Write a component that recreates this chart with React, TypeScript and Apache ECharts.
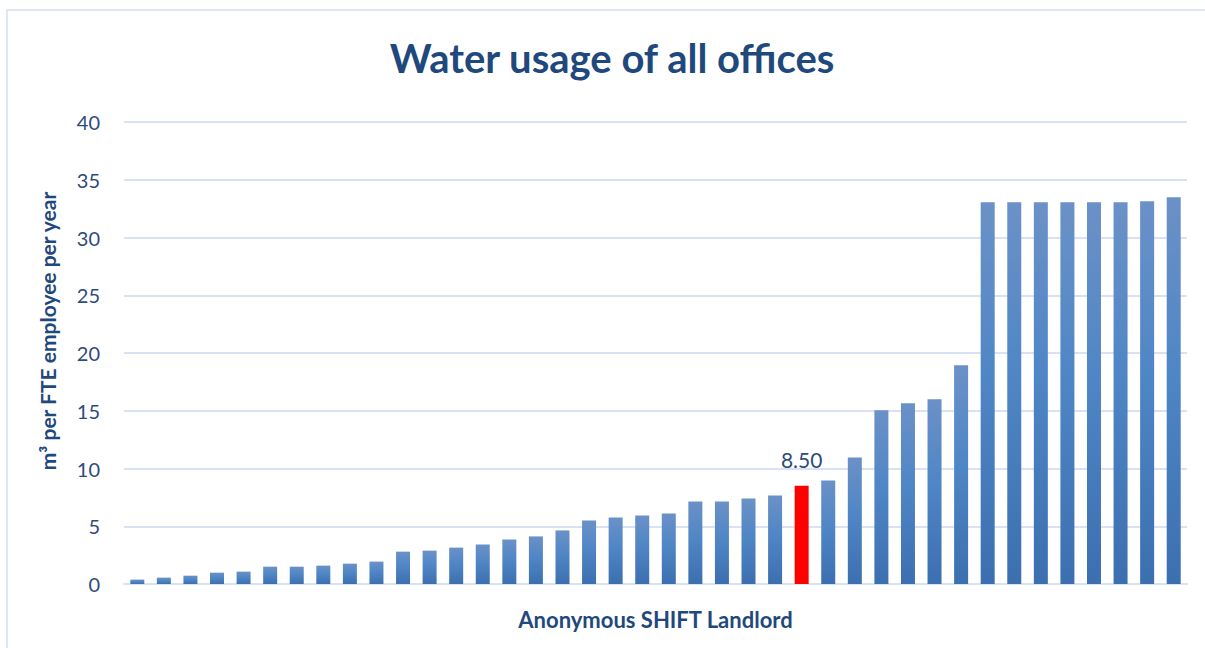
import React, { useEffect, useRef } from "react";
import * as echarts from "echarts";

const categories: string[] = Array.from({ length: 40 }, (_, i) => `Office ${i + 1}`);
const values: number[] = [
  0.38, 0.55, 0.72, 0.98, 1.07, 1.5, 1.5, 1.59, 1.76, 1.94,
  2.8, 2.89, 3.15, 3.42, 3.86, 4.12, 4.64, 5.5, 5.76, 5.94,
  6.11, 7.15, 7.15, 7.41, 7.67, 8.5, 8.96, 10.95, 15.04, 15.65,
  15.99, 18.94, 33.05, 33.05, 33.05, 33.05, 33.05, 33.05, 33.14, 33.49,
];
const highlightIndex = 25;
const yTicks = [0, 5, 10, 15, 20, 25, 30, 35, 40];

const FONT = "Lato, 'Open Sans', sans-serif";
const DARK = "#1f497d";
const LABEL = "#2f4b7c";

export default function App() {
  const ref = useRef<HTMLDivElement>(null);
  useEffect(() => {
    if (!ref.current) return;
    const chart = echarts.init(ref.current, null, { renderer: "svg" });
    const gradient = new echarts.graphic.LinearGradient(0, 0, 0, 1, [
      { offset: 0, color: "#6b91c7" },
      { offset: 0.45, color: "#4f86c6" },
      { offset: 1, color: "#3c6fb0" },
    ]);
    chart.setOption({
      animation: false,
      backgroundColor: "#ffffff",
      title: {
        text: "Water usage of all offices",
        left: 607,
        textAlign: "center",
        top: 33,
        textStyle: { fontFamily: FONT, fontSize: 40, fontWeight: "bold", color: DARK },
      },
      graphic: [
        {
          type: "rect",
          shape: { x: 7, y: 10, width: 1220, height: 660 },
          style: { fill: "none", stroke: "#d6e0ef", lineWidth: 1.5 },
          silent: true,
        },
        {
          type: "text",
          x: 47,
          y: 331,
          rotation: Math.PI / 2,
          style: {
            text: "m³ per FTE employee per year",
            fontFamily: FONT,
            fontSize: 21,
            fontWeight: "bold",
            fill: DARK,
            textAlign: "center",
            textVerticalAlign: "middle",
          },
        },
      ],
      grid: { left: 124, right: 18, top: 122, bottom: 64, containLabel: false },
      xAxis: {
        type: "category",
        data: categories,
        name: "Anonymous SHIFT Landlord",
        nameLocation: "middle",
        nameGap: 24,
        nameTextStyle: { fontFamily: FONT, fontSize: 22, fontWeight: "bold", color: DARK },
        axisLine: { show: true, lineStyle: { color: "#d9e2f3", width: 2 } },
        axisTick: { show: false },
        axisLabel: { show: false },
      },
      yAxis: {
        type: "value",
        min: yTicks[0],
        max: yTicks[yTicks.length - 1],
        interval: 5,
        axisLine: { show: false },
        axisTick: { show: false },
        axisLabel: { fontFamily: FONT, fontSize: 20, color: LABEL, margin: 24 },
        splitLine: { lineStyle: { color: "#d9e2f3", width: 2 } },
      },
      series: [
        {
          type: "bar",
          barWidth: 14,
          data: values.map((v, i) =>
            i === highlightIndex
              ? {
                  value: v,
                  itemStyle: { color: "#ff0000" },
                  label: {
                    show: true,
                    position: "top",
                    distance: 16,
                    formatter: (p: any) => Number(p.value).toFixed(2),
                    fontFamily: FONT,
                    fontSize: 21,
                    color: LABEL,
                  },
                }
              : { value: v, itemStyle: { color: gradient } }
          ),
        },
      ],
    });
    return () => chart.dispose();
  }, []);
  return (
    <div
      ref={ref}
      style={{ position: "fixed", left: 0, top: 0, width: 1205, height: 648 }}
    />
  );
}
